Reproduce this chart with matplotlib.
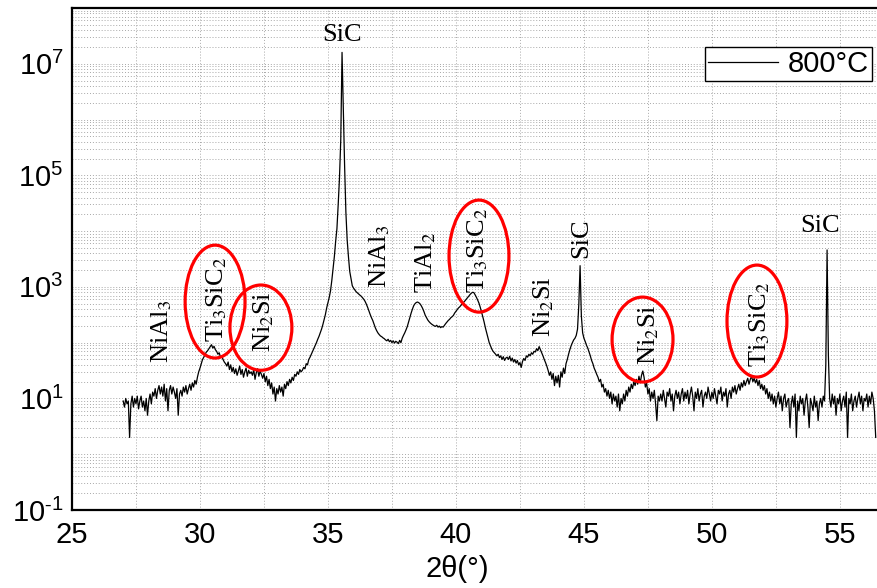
import numpy as np
import matplotlib.pyplot as plt
from matplotlib.patches import Ellipse
from matplotlib.ticker import FixedLocator, FuncFormatter, MultipleLocator

plt.rcParams['font.family'] = ['Liberation Sans', 'DejaVu Sans']
plt.rcParams['mathtext.fontset'] = 'stix'
plt.rcParams['axes.unicode_minus'] = False

# XRD scan, 0.05 deg step starting at 27.00 deg (one row per degree)
counts = [
    9, 7, 10, 8, 9, 2, 8, 11, 7, 10, 8, 11, 6.5, 9, 11, 7, 9, 6, 10, 5,                                  # 27
    9, 12, 8, 13, 11, 15, 10, 14, 17, 12, 16, 11, 18, 9, 15, 6, 14, 17, 12, 16,                         # 28
    13, 10, 15, 5, 12, 14, 11, 16, 13, 17, 12, 15, 18, 14, 19, 16, 21, 18, 24, 30,                      # 29
    35, 42, 50, 55, 62, 68, 72, 78, 85, 92, 80, 86, 75, 70, 62, 66, 55, 58, 50, 45,                     # 30
    42, 38, 45, 33, 40, 30, 36, 28, 34, 26, 31, 38, 27, 33, 24, 30, 35, 25, 32, 28,                     # 31
    30, 26, 33, 22, 29, 34, 25, 31, 27, 23, 28, 20, 25, 17, 22, 15, 19, 12, 16, 9,                      # 32
    15, 12, 17, 13, 16, 11, 18, 15, 20, 17, 22, 19, 24, 21, 27, 25, 30, 27, 33, 30,                     # 33
    32, 36, 34, 42, 40, 50, 55, 62, 70, 78, 88, 100, 115, 130, 150, 175, 210, 260, 320, 420,            # 34
    520, 650, 850, 1300, 2100, 3500, 6500, 11000, 30000, 90000, 430000, 1.6e7, 1.5e6, 1.5e5, 2.2e4,
    7000, 3500, 1900, 1400, 1050,                                                                       # 35
    950, 880, 820, 780, 740, 710, 680, 640, 600, 550, 490, 430, 370, 320, 280, 250, 215, 185, 165, 150, # 36
    140, 132, 128, 122, 118, 112, 108, 115, 104, 110, 100, 108, 98, 106, 102, 96, 110, 100, 120, 135,   # 37
    150, 170, 195, 235, 280, 340, 400, 460, 500, 525, 535, 520, 495, 455, 410, 360, 310, 280, 255, 238, # 38
    225, 215, 207, 200, 196, 205, 190, 198, 186, 194, 190, 205, 220, 235, 250, 262, 280, 292, 308, 340, # 39
    365, 390, 420, 440, 470, 500, 530, 560, 600, 640, 680, 730, 770, 800, 790, 720, 650, 580, 510, 430, # 40
    355, 290, 235, 185, 150, 122, 100, 88, 77, 70, 66, 62, 58, 62, 54, 58, 50, 56, 48, 53,              # 41
    55, 50, 57, 47, 53, 45, 50, 43, 48, 40, 44, 36, 46, 52, 48, 58, 55, 62, 58, 66,                     # 42
    62, 70, 68, 78, 72, 85, 75, 66, 58, 50, 44, 38, 32, 26, 30, 22, 28, 17, 25, 19,                     # 43
    26, 16, 30, 24, 35, 28, 42, 50, 62, 75, 88, 100, 112, 120, 135, 175, 480, 2400, 300, 150,           # 44
    120, 105, 90, 80, 68, 58, 48, 42, 35, 31, 27, 24, 20, 22, 16, 18, 13, 15, 11, 14,                   # 45
    10, 13, 8, 12, 9, 11, 7, 12, 6, 10, 8, 12, 9, 14, 11, 16, 13, 18, 15, 20,                           # 46
    17, 22, 18, 25, 19, 26, 31, 24, 16, 19, 12, 15, 9, 13, 10, 14, 8, 4, 11, 9,                         # 47
    12, 9, 14, 10, 7, 13, 11, 15, 9, 12, 6, 11, 14, 10, 13, 8, 12, 15, 9, 13,                           # 48
    10, 14, 8, 12, 16, 11, 6, 13, 10, 15, 9, 12, 14, 7, 11, 13, 10, 16, 12, 9,                          # 49
    13, 10, 15, 11, 8, 14, 12, 16, 9, 13, 11, 15, 7, 12, 14, 10, 16, 13, 17, 12,                        # 50
    15, 18, 14, 19, 16, 21, 17, 20, 23, 18, 22, 25, 20, 23, 19, 22, 17, 21, 15, 18,                     # 51
    14, 17, 12, 15, 10, 13, 9, 12, 8, 11, 7, 10, 13, 8, 11, 6, 10, 12, 7, 9,                            # 52
    10, 3, 8, 11, 7, 12, 2, 9, 6, 11, 8, 10, 5, 9, 12, 7, 3, 10, 8, 6,                                  # 53
    11, 7, 9, 4, 8, 10, 7, 11, 9, 40, 4600, 60, 10, 7, 12, 8, 11, 5, 10, 8,                             # 54
    12, 6, 9, 11, 7, 13, 2, 10, 8, 12, 6, 9, 11, 7, 10, 13, 8, 11, 6, 10,                               # 55
    9, 12, 7, 11, 8, 13, 10, 6, 2,                                                                      # 56
]
two_theta = 27.0 + 0.05 * np.arange(len(counts))

# phase labels (rotated), placed at 2theta and intensity of their lower end
phase_labels = ['NiAl$_3$', 'Ti$_3$SiC$_2$', 'Ni$_2$Si', 'NiAl$_3$', 'TiAl$_2$',
                'Ti$_3$SiC$_2$', 'Ni$_2$Si', 'SiC', 'Ni$_2$Si', 'Ti$_3$SiC$_2$']
phase_x = [28.52, 30.66, 32.5, 37.03, 38.8, 40.86, 43.44, 44.88, 47.54, 51.88]
phase_y = [43, 103, 68, 950, 774, 774, 126, 3280, 40, 36.6]

# horizontal SiC labels
sic_x = [35.55, 54.24]
sic_y = [2.1e7, 7800]

# red rings: centre 2theta, width in degrees, intensity span
ring_x = [30.59, 32.38, 40.9, 47.29, 51.76]
ring_w = [2.34, 2.42, 2.34, 2.38, 2.34]
ring_lo = [53, 32, 353, 19.7, 24.2]
ring_hi = [5600, 1080, 36000, 656, 2460]

fig = plt.figure(figsize=(8.77, 5.88), dpi=100)
ax = fig.add_axes([72 / 877, 78 / 588, 805 / 877, 502 / 588])

ax.plot(two_theta, counts, color='black', linewidth=0.9, label='800°C')
ax.set_yscale('log')
ax.set_xlim(25, 56.45)
ax.set_ylim(1e-1, 1e8)

ax.xaxis.set_major_locator(MultipleLocator(5))
ax.xaxis.set_minor_locator(MultipleLocator(2.5))
ax.yaxis.set_major_locator(FixedLocator([10.0 ** e for e in range(-1, 9)]))
ax.yaxis.set_minor_locator(FixedLocator([m * 10.0 ** e for e in range(-1, 8) for m in range(2, 10)]))


def fmt_y(v, pos):
    e = int(round(np.log10(v)))
    if e % 2 == 0:
        return ''
    exp = r'\text{-}%d' % abs(e) if e < 0 else '%d' % e
    return r'$\mathdefault{10^{%s}}$' % exp


ax.yaxis.set_major_formatter(FuncFormatter(fmt_y))
ax.yaxis.set_minor_formatter(FuncFormatter(lambda v, pos: ''))
ax.tick_params(which='both', length=0, labelsize=21)
ax.tick_params(axis='x', pad=8)
ax.tick_params(axis='y', pad=6)

ax.grid(which='both', color='#a8a8a8', linestyle=(0, (1, 2)), linewidth=0.7)
ax.set_axisbelow(True)

for side in ['left', 'bottom', 'top']:
    ax.spines[side].set_linewidth(1.6)
ax.spines['right'].set_visible(False)

ax.set_xlabel('2θ(°)', fontsize=21)
ax.xaxis.set_label_coords(0.478, -0.09)

for lab, x, y in zip(phase_labels, phase_x, phase_y):
    ax.text(x, y, lab, rotation=90, ha='center', va='bottom', fontsize=19,
            family='Liberation Serif', zorder=5)
for x, y in zip(sic_x, sic_y):
    ax.text(x, y, 'SiC', ha='center', va='bottom', fontsize=19,
            family='Liberation Serif', zorder=5)

to_axes = ax.transData + ax.transAxes.inverted()
for x, w, lo, hi in zip(ring_x, ring_w, ring_lo, ring_hi):
    (x0, y0), (x1, y1) = to_axes.transform([(x - w / 2, lo), (x + w / 2, hi)])
    ax.add_patch(Ellipse(((x0 + x1) / 2, (y0 + y1) / 2), x1 - x0, y1 - y0,
                         transform=ax.transAxes, fill=False, edgecolor='red',
                         linewidth=2.3, zorder=6))

leg = ax.legend(loc='upper right', bbox_to_anchor=(0.994, 0.922), fontsize=21,
                fancybox=False, framealpha=1, edgecolor='black', borderpad=0.1,
                handlelength=2.4, handletextpad=0.35, borderaxespad=0)
leg.get_frame().set_linewidth(1.0)

fig.savefig('out.png', dpi=100)
